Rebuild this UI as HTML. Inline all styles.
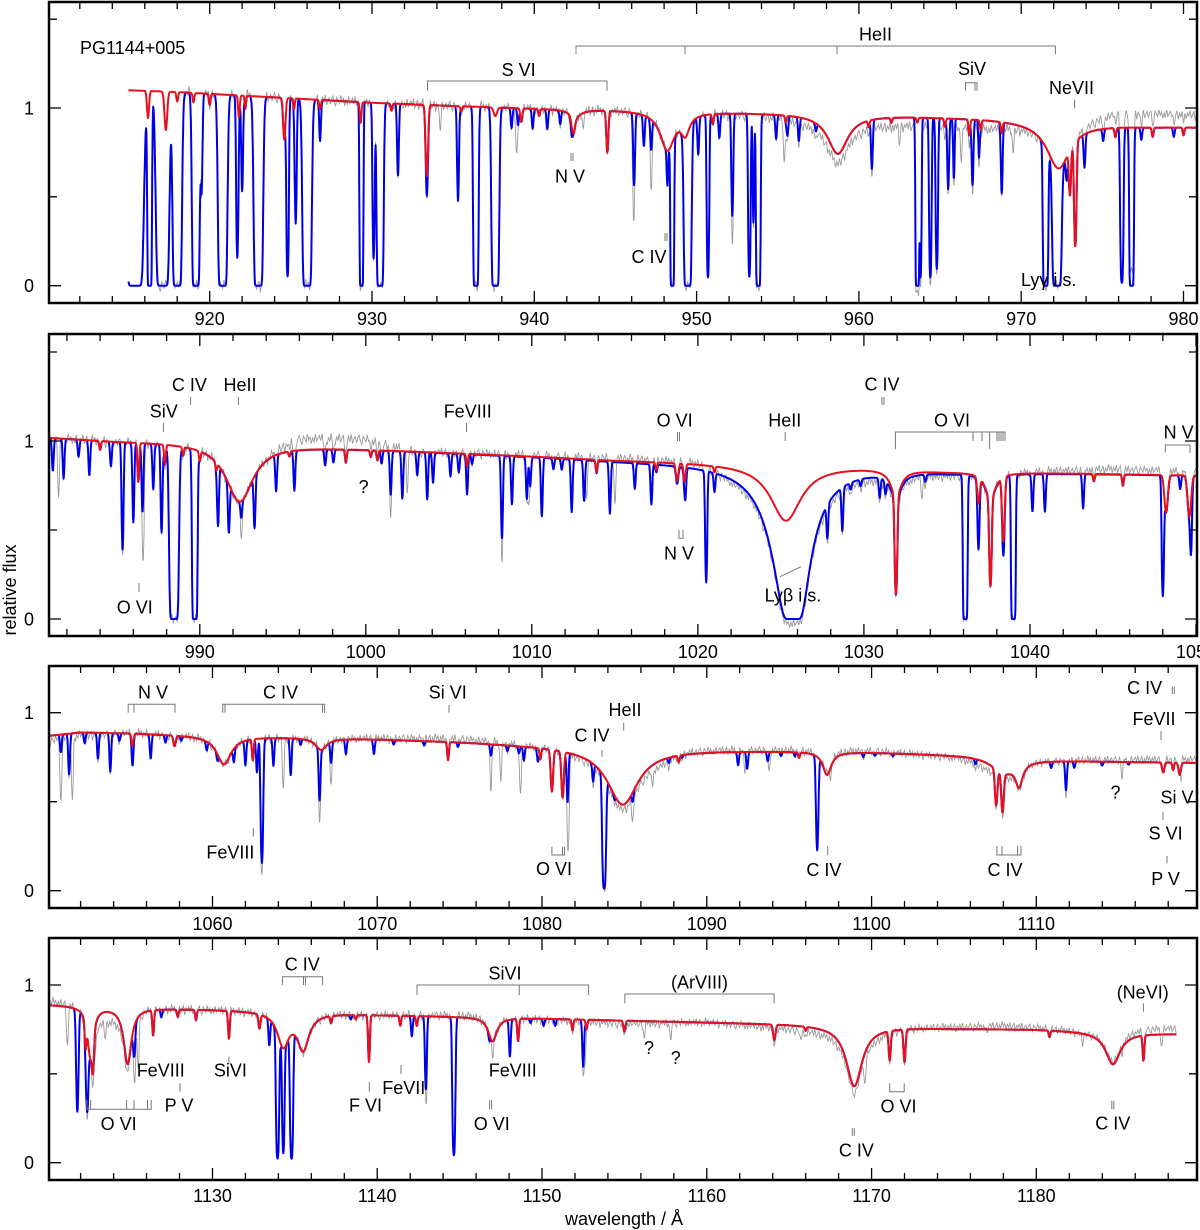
<!DOCTYPE html>
<html>
<head>
<meta charset="utf-8">
<style>
  html,body{margin:0;padding:0;background:#fff;}
  svg{display:block;font-family:"Liberation Sans",Arial,sans-serif;}
  .lab{font-size:18px;fill:#000;}
  .ann{stroke:#777;stroke-width:1;fill:none;}
  .frame{fill:none;stroke:#000;stroke-width:2.5;}
</style>
</head>
<body>
<svg id="chart" width="1200" height="1230" viewBox="0 0 1200 1230" xmlns="http://www.w3.org/2000/svg">
  <g id="spectra"></g>
  <g id="axes"></g>

  <g>
    <text class="lab" x="80" y="54">PG1144+005</text>
    <text class="lab" x="518.6" y="76" text-anchor="middle">S VI</text>
    <path class="ann" d="M427.5,90.7V81H607V90.7"/>
    <text class="lab" x="875.5" y="40.7" text-anchor="middle">HeII</text>
    <path class="ann" d="M576,54V46H1055.4V54M685,46V54M837,46V54"/>
    <text class="lab" x="972" y="75" text-anchor="middle">SiV</text>
    <path class="ann" d="M965.5,90.7V82.7H977V90.7M975,82.7V90.7"/>
    <text class="lab" x="1071.5" y="94" text-anchor="middle">NeVII</text>
    <path class="ann" d="M1074.5,100V108"/>
    <text class="lab" x="570" y="182.7" text-anchor="middle">N V</text>
    <path class="ann" d="M571,153V161M573,153V161"/>
    <text class="lab" x="649" y="263" text-anchor="middle">C IV</text>
    <path class="ann" d="M665,233V241M667,233V241"/>
    <text class="lab" x="1021" y="286">Lyγ i.s.</text>
  </g>

  <g>
    <text class="lab" x="189.4" y="391" text-anchor="middle">C IV</text>
    <path class="ann" d="M190.6,397V405"/>
    <text class="lab" x="240" y="391" text-anchor="middle">HeII</text>
    <path class="ann" d="M238.4,397V405"/>
    <text class="lab" x="163.8" y="417.3" text-anchor="middle">SiV</text>
    <path class="ann" d="M163.4,423V432"/>
    <text class="lab" x="467.7" y="417.3" text-anchor="middle">FeVIII</text>
    <path class="ann" d="M466.5,423V432"/>
    <text class="lab" x="363.6" y="493" text-anchor="middle">?</text>
    <text class="lab" x="134.7" y="613.3" text-anchor="middle">O VI</text>
    <path class="ann" d="M139,583V591.7"/>
    <text class="lab" x="674.6" y="426.7" text-anchor="middle">O VI</text>
    <path class="ann" d="M677.5,432V441M679.5,432V441"/>
    <text class="lab" x="784.8" y="426.7" text-anchor="middle">HeII</text>
    <path class="ann" d="M785.2,432V441"/>
    <text class="lab" x="882" y="390.7" text-anchor="middle">C IV</text>
    <path class="ann" d="M882,397V405M884,397V405"/>
    <text class="lab" x="952" y="426.7" text-anchor="middle">O VI</text>
    <path class="ann" d="M895.4,449.3V432H1005.7M973,432V441M982,432V441M989.6,432V449M997,432V441M999,432V441M1001,432V441M1003,432V441M1005,432V441"/>
    <text class="lab" x="1178.6" y="438.3" text-anchor="middle">N V</text>
    <path class="ann" d="M1165.3,452.7V445H1190V452.7"/>
    <text class="lab" x="679" y="559.3" text-anchor="middle">N V</text>
    <path class="ann" d="M679,530V538.3H683V530"/>
    <text class="lab" x="764.6" y="601.7">Lyβ i.s.</text>
    <path class="ann" d="M780,576.7L801,566.7"/>
  </g>

  <g>
    <text class="lab" x="153" y="698.3" text-anchor="middle">N V</text>
    <path class="ann" d="M128.2,712.7V704.3H175V712.7M134,704.3V712.7"/>
    <text class="lab" x="280.5" y="698.3" text-anchor="middle">C IV</text>
    <path class="ann" d="M222.7,712.7V704.3H324.5V712.7M225,704.3V712.7M322.5,704.3V712.7"/>
    <text class="lab" x="447.8" y="698.3" text-anchor="middle">Si VI</text>
    <path class="ann" d="M449,705V712.7"/>
    <text class="lab" x="230.4" y="858.3" text-anchor="middle">FeVIII</text>
    <path class="ann" d="M253.3,828.3V836.7"/>
    <text class="lab" x="554" y="875" text-anchor="middle">O VI</text>
    <path class="ann" d="M551.9,846.7V855H564.5V846.7M562.5,846.7V855"/>
    <text class="lab" x="592" y="741.7" text-anchor="middle">C IV</text>
    <path class="ann" d="M602,750V756.7"/>
    <text class="lab" x="625" y="716" text-anchor="middle">HeII</text>
    <path class="ann" d="M623.7,722.7V730.7"/>
    <text class="lab" x="823.9" y="876" text-anchor="middle">C IV</text>
    <path class="ann" d="M827.7,846V855"/>
    <text class="lab" x="1005" y="876" text-anchor="middle">C IV</text>
    <path class="ann" d="M996.9,846V855H1021V846M1002,846V855M1017.6,846V855"/>
    <text class="lab" x="1115.5" y="798.3" text-anchor="middle">?</text>
    <text class="lab" x="1144.6" y="694" text-anchor="middle">C IV</text>
    <path class="ann" d="M1172.3,686.7V694M1174.3,686.7V694"/>
    <text class="lab" x="1154" y="725" text-anchor="middle">FeVII</text>
    <path class="ann" d="M1161,731V740"/>
    <text class="lab" x="1177" y="803.3" text-anchor="middle">Si V</text>
    <path class="ann" d="M1181,775V781.7"/>
    <text class="lab" x="1165.6" y="839.3" text-anchor="middle">S VI</text>
    <path class="ann" d="M1163,811.7V820"/>
    <text class="lab" x="1165.6" y="885" text-anchor="middle">P V</text>
    <path class="ann" d="M1167,856V863.3"/>
  </g>

  <g>
    <text class="lab" x="302.3" y="970.7" text-anchor="middle">C IV</text>
    <path class="ann" d="M282.4,985V976.7H322.6V985M303.5,976.7V985M305.5,976.7V985"/>
    <text class="lab" x="505" y="979.3" text-anchor="middle">SiVI</text>
    <path class="ann" d="M417,995V985H588.6V995M519.3,985V995"/>
    <text class="lab" x="699.5" y="988.3" text-anchor="middle">(ArVIII)</text>
    <path class="ann" d="M624.9,1003.3V994H774.1V1003.3"/>
    <text class="lab" x="1142.7" y="998.3" text-anchor="middle">(NeVI)</text>
    <path class="ann" d="M1143.4,1003.3V1011.7"/>
    <text class="lab" x="649" y="1054" text-anchor="middle">?</text>
    <text class="lab" x="675.8" y="1064" text-anchor="middle">?</text>
    <text class="lab" x="898.5" y="1112.7" text-anchor="middle">O VI</text>
    <path class="ann" d="M889.7,1083.3V1091.7H904.2V1083.3"/>
    <text class="lab" x="856.4" y="1156.7" text-anchor="middle">C IV</text>
    <path class="ann" d="M852.3,1128.3V1136M854.3,1128.3V1136"/>
    <text class="lab" x="1112.8" y="1129.3" text-anchor="middle">C IV</text>
    <path class="ann" d="M1111.8,1100.7V1109.3M1113.8,1100.7V1109.3"/>
    <text class="lab" x="118.6" y="1130" text-anchor="middle">O VI</text>
    <path class="ann" d="M86.9,1100V1109.3H151.2V1100M90.6,1100V1109.3M126.6,1100V1109.3M134,1100V1109.3M147.5,1100V1109.3"/>
    <text class="lab" x="160.7" y="1076.7" text-anchor="middle">FeVIII</text>
    <text class="lab" x="179" y="1111.7" text-anchor="middle">P V</text>
    <path class="ann" d="M180,1083.3V1091.7"/>
    <text class="lab" x="230.4" y="1076.7" text-anchor="middle">SiVI</text>
    <path class="ann" d="M228.9,1056.7V1064"/>
    <text class="lab" x="365.5" y="1111.7" text-anchor="middle">F VI</text>
    <path class="ann" d="M369.3,1081.7V1091.7"/>
    <text class="lab" x="403.8" y="1094" text-anchor="middle">FeVII</text>
    <path class="ann" d="M401,1065V1074"/>
    <text class="lab" x="512.8" y="1076.7" text-anchor="middle">FeVIII</text>
    <text class="lab" x="491.8" y="1130" text-anchor="middle">O VI</text>
    <path class="ann" d="M489.6,1100V1109.3M491.6,1100V1109.3"/>
  </g>

  <text class="lab" x="624" y="1225" text-anchor="middle">wavelength / Å</text>
  <text class="lab" transform="translate(16,590) rotate(-90)" text-anchor="middle">relative flux</text>
</svg>

<script>
// ===== Panel 1 data (910-981 A) =====
const p1Continuum = [[915,1.10],[918,1.09],[922,1.07],[926,1.05],[930,1.03],[935,1.012],[940,0.998],[945,0.99],[953,0.975],[963,0.955],[968,0.94],[975,0.905],[978,0.895],[981,0.892]];
const p1PhotLines = [[916.2,0.15,0.06],[917.3,0.22,0.08],[918.0,0.05,0.05],[919.0,0.05,0.05],[920.0,0.06,0.05],[921.8,0.12,0.05],[922.2,0.07,0.04],[924.6,0.25,0.07],[925.2,0.06,0.04],[926.8,0.05,0.05],[929.3,0.12,0.05],[931.2,0.04,0.05],[933.38,0.5,0.07],[935.5,0.03,0.05],[937.6,0.05,0.1],[939.2,0.08,0.06],[940.3,0.04,0.05],[942.4,0.1,0.1],[944.5,0.27,0.06],[951.0,0.06,0.05],[955.5,0.04,0.05],[960.6,0.04,0.05],[962,0.03,0.05],[963.6,0.03,0.05],[965.3,0.05,0.05],[966.8,0.1,0.05],[967.5,0.06,0.05],[968.8,0.07,0.05],[973.0,0.4,0.06],[973.33,1.3,0.06],[975.8,0.06,0.05],[978.1,0.06,0.05],[980.0,0.05,0.05]];
const p1PhotBroad = [[942.5,0.05,0.4],[948.2,0.25,0.5],[949.3,0.12,0.3],[958.7,0.26,0.7],[972.3,0.33,0.8]];
const p1IsmLines = [[915.4,20,0.22],[916.3,20,0.06],[917.1,20,0.17],[918.0,20,0.12],[919.15,20,0.1],[919.5,0.7,0.05],[920.8,20,0.12],[921.7,1.9,0.05],[922.0,0.7,0.05],[923.0,20,0.12],[924.8,3,0.05],[925.3,1.1,0.05],[926.0,20,0.12],[926.8,0.2,0.05],[929.35,20,0.05],[930.1,1.9,0.05],[930.5,20,0.09],[931.6,0.5,0.05],[933.38,0.2,0.05],[935.3,0.75,0.05],[936.4,20,0.07],[937.6,20,0.1],[938.6,0.12,0.05],[939.0,0.1,0.05],[939.9,0.12,0.05],[940.8,0.12,0.05],[941.6,0.08,0.05],[942.3,0.06,0.05],[946.15,0.55,0.05],[946.75,0.2,0.05],[947.2,0.2,0.05],[948.2,0.3,0.04],[948.5,20,0.05],[949.45,20,0.1],[950.1,0.25,0.05],[950.7,3,0.05],[951.4,0.15,0.05],[952.2,0.9,0.05],[953.25,3,0.05],[953.5,1,0.04],[953.8,20,0.06],[954.9,0.15,0.05],[955.6,0.12,0.05],[956.3,0.15,0.05],[957.35,0.05,0.05],[960.8,0.35,0.05],[963.6,20,0.05],[963.8,3,0.04],[964.4,3,0.05],[964.8,2.3,0.05],[965.5,0.55,0.05],[965.85,0.45,0.04],[967.0,0.5,0.05],[967.4,0.25,0.04],[968.8,0.5,0.05],[971.5,20,0.07],[972.2,20,0.12],[972.8,0.2,0.05],[973.9,0.25,0.05],[975.05,0.08,0.05],[976.2,4,0.06],[976.8,20,0.06],[977.4,0.08,0.05],[979.4,0.06,0.05]];
const p1Damped = [];
const p1GreyLines = [[934.2,0.15],[938.9,0.3],[943.0,0.1],[946.1,0.6],[947.2,0.4],[952.2,0.5],[955.4,0.3],[962.5,0.1],[966.3,0.2],[969.5,0.15]];
const p1GreyOffset = [[915,0],[950,0],[955,-0.02],[958,-0.06],[962,-0.05],[968,-0.05],[972,0],[974,0.03],[976,0.08],[981,0.07]];
const p1TickLabels = [920,930,940,950,960,970,980];

// ===== Panel 2 data (981-1050 A) =====
const p2Continuum = [[981,1.02],[985,1.0],[990,0.99],[995,0.975],[1000,0.955],[1005,0.935],[1010,0.915],[1015,0.893],[1020,0.88],[1030,0.855],[1035,0.83],[1045,0.815],[1051,0.805]];
const p2PhotLines = [[984.0,0.05,0.05],[986.3,0.25,0.05],[987.9,0.12,0.05],[989.0,0.05,0.05],[990.0,0.06,0.05],[991.0,0.05,0.05],[995.4,0.03,0.05],[998.8,0.08,0.05],[1000.3,0.04,0.05],[1000.7,0.06,0.05],[1006.1,0.08,0.05],[1013.9,0.08,0.05],[1017.5,0.05,0.05],[1018.75,0.12,0.07],[1019.2,0.12,0.06],[1021.0,0.04,0.05],[1031.93,1.6,0.06],[1036.9,0.2,0.07],[1037.62,1.3,0.06],[1038.4,0.6,0.07],[1043.85,0.05,0.05],[1045.6,0.08,0.05],[1048.2,0.3,0.1],[1049.6,0.34,0.1]];
const p2PhotBroad = [[992.4,0.4,0.9],[1025.3,0.45,1.0],[1031.93,0.2,0.35],[1037.62,0.2,0.35]];
const p2IsmLines = [[981.15,0.2],[981.8,0.25],[982.7,0.1],[983.35,0.22],[984.65,0.15],[985.35,0.95],[986.0,0.6],[986.55,0.5],[987.2,0.3],[987.7,0.7],[988.45,20,0.12],[989.7,20,0.07],[991.1,0.5],[991.75,0.45],[992.5,0.15],[993.3,0.45],[994.6,0.25],[995.7,0.27],[997.55,0.1],[998.05,0.08],[1000.95,0.08],[1001.5,0.3],[1002.2,0.33],[1003.1,0.15],[1003.7,0.33],[1004.05,0.2],[1005.1,0.15],[1005.6,0.12],[1006.1,0.2],[1006.4,0.06],[1008.2,0.7],[1008.8,0.35],[1009.7,0.3],[1009.9,0.2],[1010.6,0.45],[1011.3,0.07],[1011.8,0.07],[1012.4,0.4],[1013.15,0.3],[1014.7,0.4],[1016.2,0.18],[1017.2,0.3],[1019.25,0.15],[1020.5,1.4],[1021.0,0.1],[1027.8,0.35],[1028.7,0.4],[1029.2,0.05],[1029.8,0.05],[1030.95,0.15],[1031.3,0.1],[1033.7,0.05],[1036.1,20,0.06],[1036.9,0.5],[1038.4,0.2],[1039.0,20,0.06],[1040.15,0.3],[1040.9,0.3],[1043.2,0.27],[1048.0,1.8],[1049.05,0.1],[1049.7,0.6]];
const p2Damped = [[1025.72,1.0]];
const p2GreyLines = [[981.5,0.4],[986.6,0.8],[992.5,0.2],[1001.5,0.3],[1002.5,0.3],[1008.2,0.4],[1009.8,0.3],[1013.3,0.3],[1015,0.35],[1033.5,0.15],[1050.5,0.4]];
const p2GreyOffset = [[981,0],[994,0],[996,0.06],[1000,0.06],[1003,0],[1015,0.02],[1020,0.03],[1022,-0.02],[1028,-0.03],[1033,-0.02],[1040,0.01],[1045,0.03],[1051,0.02]];
const p2TickLabels = [990,1000,1010,1020,1030,1040,1050];

// ===== Panel 3 data (1050-1120 A) =====
const p3Continuum = [[1050,0.87],[1052,0.89],[1055,0.885],[1058,0.875],[1060,0.868],[1065,0.862],[1070,0.852],[1075,0.837],[1080,0.815],[1082,0.805],[1088,0.79],[1095,0.785],[1100,0.778],[1106,0.76],[1110,0.735],[1115,0.725],[1120,0.718]];
const p3PhotLines = [[1055.15,0.08,0.06],[1057.7,0.07,0.07],[1062.45,0.15,0.05],[1074.3,0.13,0.05],[1079.9,0.08,0.05],[1080.6,0.35,0.07],[1081.25,0.4,0.07],[1088.3,0.05,0.05],[1095.6,0.04,0.05],[1107.56,0.35,0.07],[1107.95,0.4,0.07],[1117.7,0.08,0.07],[1118.3,0.06,0.05],[1118.7,0.1,0.07]];
const p3PhotBroad = [[1060.7,0.2,0.5],[1066.6,0.08,0.4],[1084.9,0.5,1.0],[1097.3,0.18,0.3],[1108.0,0.12,0.8],[1108.95,0.2,0.25]];
const p3IsmLines = [[1050.8,0.12],[1051.3,0.3],[1052.25,0.07],[1053.05,0.18],[1053.8,0.28],[1054.35,0.05],[1055.15,0.15],[1056.25,0.17],[1057.15,0.05],[1058.1,0.03],[1059.65,0.06],[1060.3,0.05],[1061.3,0.1],[1062.0,0.18],[1062.7,0.25],[1063.0,1.7,0.06],[1063.7,0.2],[1064.75,0.28],[1065.35,0.04],[1066.5,0.45],[1067.2,0.15],[1068.1,0.1],[1069.8,0.1],[1071.0,0.03],[1072.85,0.03],[1074.9,0.03],[1076.9,0.08],[1077.9,0.04],[1078.6,0.05],[1078.9,0.1],[1079.75,0.1],[1081.55,0.45],[1083.1,0.15],[1083.77,4,0.07],[1084.4,0.05],[1085.5,0.1],[1087.7,0.04],[1088.5,0.02],[1091.9,0.1],[1092.45,0.13],[1093.7,0.07],[1094.5,0.03],[1095.35,0.03],[1096.7,1.2,0.06],[1099.5,0.03],[1100.2,0.02],[1101.3,0.02],[1106.3,0.04],[1110.9,0.05],[1111.8,0.25],[1112.3,0.05],[1114.0,0.03],[1115.6,0.02]];
const p3Damped = [];
const p3GreyLines = [[1050.8,0.4],[1051.5,0.5],[1063,0.5],[1064.3,0.4],[1066.5,0.3],[1067.2,0.2],[1076.9,0.3],[1077.5,0.3],[1078.7,0.4],[1081.6,0.9],[1085.5,0.2],[1086.7,0.1],[1092.3,0.15],[1093.8,0.15],[1097.5,0.1],[1111.8,0.1],[1115.2,0.15]];
const p3GreyOffset = [[1050,-0.03],[1055,0],[1068,0],[1075,0.02],[1080,0],[1083,-0.02],[1087,-0.04],[1089,0.01],[1100,0.01],[1105,-0.01],[1107,-0.04],[1110,0],[1114,0.01],[1120,0.02]];
const p3TickLabels = [1060,1070,1080,1090,1100,1110];

// ===== Panel 4 data (1120-1190 A) =====
const p4Continuum = [[1120,0.89],[1125,0.872],[1130,0.862],[1135,0.848],[1140,0.832],[1145,0.822],[1150,0.812],[1155,0.80],[1160,0.79],[1165,0.78],[1170,0.765],[1175,0.755],[1180,0.75],[1185,0.732],[1189,0.725]];
const p4PhotLines = [[1122.3,0.2,0.05],[1122.75,0.3,0.06],[1126.4,0.18,0.05],[1127.9,0.05,0.05],[1129.0,0.07,0.05],[1131.0,0.2,0.05],[1132.85,0.1,0.06],[1137.2,0.05,0.05],[1138.7,0.03,0.05],[1139.5,0.38,0.05],[1141.4,0.07,0.05],[1142.4,0.07,0.05],[1148.55,0.17,0.05],[1151.85,0.08,0.05],[1152.7,0.07,0.05],[1155.0,0.08,0.06],[1164.1,0.12,0.07],[1166.0,0.03,0.05],[1171.1,0.25,0.06],[1172.0,0.28,0.06],[1180.8,0.05,0.05],[1186.5,0.22,0.05]];
const p4PhotBroad = [[1122.6,0.4,0.2],[1124.85,0.45,0.25],[1134.3,0.25,0.4],[1135.5,0.28,0.4],[1147.0,0.18,0.3],[1168.95,0.58,0.5],[1184.65,0.28,0.5]];
const p4IsmLines = [[1121.8,1.1,0.06],[1122.4,0.9,0.06],[1125.25,0.25,0.06],[1126.9,0.05],[1133.45,0.2],[1133.95,3.5,0.06],[1134.3,2.5,0.05],[1134.8,3.5,0.06],[1138.4,0.03],[1142.1,0.15],[1142.95,0.7,0.05],[1144.65,3,0.06],[1146.8,0.05],[1148.05,0.3],[1149.3,0.03],[1150.1,0.05],[1150.8,0.05],[1152.5,0.4]];
const p4Damped = [];
const p4GreyLines = [[1121.2,0.3],[1122.9,0.1],[1123.5,0.1],[1125.3,0.3],[1125.5,0.4],[1143,0.4],[1147,0.15],[1152.6,0.3],[1156.2,0.1],[1157.8,0.12],[1165.7,0.08],[1169.6,0.25],[1177,0.05],[1182.8,0.08],[1185.2,0.1],[1187.6,0.15]];
const p4GreyOffset = [[1120,0.02],[1122,0],[1123,-0.07],[1124.5,-0.05],[1126,0],[1140,0],[1145,0.01],[1155,-0.02],[1160,0],[1166,-0.03],[1170,-0.04],[1172,0],[1178,0.02],[1183,0],[1187,0.03]];
const p4TickLabels = [1130,1140,1150,1160,1170,1180];

// observed residual pattern for the grey spectrum
const noise = [0.02,-0.01,0.03,-0.02,0.0,0.025,-0.03,0.01,-0.015,0.035,-0.005,0.02,-0.025,0.015,-0.01,0.03,-0.02,0.005,0.025,-0.035,0.01,-0.005,0.02,-0.015,0.03,-0.025,0.0,0.015,-0.02,0.01,0.025,-0.01,-0.03,0.02,0.005,-0.015,0.03,-0.005,0.015,-0.025,0.01,-0.02,0.028,-0.012,0.004];

const panels = [
  {name:'panel-1', lo:910.1, hi:980.83, top:2, bottom:303, y0:285.7, y1:108, start:915.0, end:980.83, greyStart:916.5, labelY:325, cont:p1Continuum, phot:p1PhotLines, broad:p1PhotBroad, ism:p1IsmLines, damped:p1Damped, grey:p1GreyLines, goff:p1GreyOffset, ticks:p1TickLabels, yt:[0,0.5,1,1.5]},
  {name:'panel-2', lo:980.92, hi:1050.06, top:334, bottom:636, y0:619, y1:441, start:980.92, end:1050.06, greyStart:980.92, labelY:658, cont:p2Continuum, phot:p2PhotLines, broad:p2PhotBroad, ism:p2IsmLines, damped:p2Damped, grey:p2GreyLines, goff:p2GreyOffset, ticks:p2TickLabels, yt:[0,0.5,1,1.5]},
  {name:'panel-3', lo:1050.08, hi:1119.75, top:666, bottom:908, y0:890.7, y1:712.7, start:1050.08, end:1119.75, greyStart:1050.08, labelY:930, cont:p3Continuum, phot:p3PhotLines, broad:p3PhotBroad, ism:p3IsmLines, damped:p3Damped, grey:p3GreyLines, goff:p3GreyOffset, ticks:p3TickLabels, yt:[0,0.5,1]},
  {name:'panel-4', lo:1120.08, hi:1189.75, top:938, bottom:1180, y0:1162.7, y1:985, start:1120.08, end:1188.5, greyStart:1120.08, labelY:1202, cont:p4Continuum, phot:p4PhotLines, broad:p4PhotBroad, ism:p4IsmLines, damped:p4Damped, grey:p4GreyLines, goff:p4GreyOffset, ticks:p4TickLabels, yt:[0,0.5,1]}
];

const XL = 49, XR = 1197;
const NS = 'http://www.w3.org/2000/svg';

function interp(knots, l){
  if(l <= knots[0][0]) return knots[0][1];
  for(let i=1;i<knots.length;i++){
    if(l <= knots[i][0]){
      const a=knots[i-1], b=knots[i];
      return a[1] + (b[1]-a[1])*(l-a[0])/(b[0]-a[0]);
    }
  }
  return knots[knots.length-1][1];
}
function tauGauss(lines, l){
  let t=0;
  for(const ln of lines){
    const s = ln[2] || 0.05;
    const d = (l-ln[0])/s;
    if(d>-7 && d<7) t += ln[1]*Math.exp(-0.5*d*d);
  }
  return t;
}
function tauLorentz(lines, l){
  let t=0;
  for(const ln of lines){
    const d=(l-ln[0])/ln[2];
    t += ln[1]/(1+d*d);
  }
  return t;
}
function tauDamped(lines, l){
  let t=0;
  for(const ln of lines){
    const d=l-ln[0];
    t += ln[1]/(d*d+0.002);
  }
  return t;
}
function noiseAt(l){
  const f = l/0.08;
  const i = Math.floor(f), fr = f-i;
  const n = noise.length;
  const a = noise[((i%n)+n)%n], b = noise[(((i+1)%n)+n)%n];
  return a + (b-a)*fr;
}

const spectra = document.getElementById('spectra');
const axes = document.getElementById('axes');

panels.forEach((P) => {
  const xs = (l) => XL + (l-P.lo)*(XR-XL)/(P.hi-P.lo);
  const ys = (f) => P.y0 - f*(P.y0-P.y1);

  // clip
  const cp = document.createElementNS(NS,'clipPath');
  cp.setAttribute('id','clip-'+P.name);
  const cr = document.createElementNS(NS,'rect');
  cr.setAttribute('x',XL); cr.setAttribute('y',P.top);
  cr.setAttribute('width',XR-XL); cr.setAttribute('height',P.bottom-P.top);
  cp.appendChild(cr);
  spectra.appendChild(cp);

  const g = document.createElementNS(NS,'g');
  g.setAttribute('clip-path','url(#clip-'+P.name+')');
  
  
  spectra.appendChild(g);

  let dR='', dB='', dG='';
  const step = 0.02;
  for(let l=P.start; l<=P.end+1e-9; l+=step){
    const c = interp(P.cont, l);
    const red = c*Math.exp(-(tauGauss(P.phot,l)+tauLorentz(P.broad,l)));
    const blue = red*Math.exp(-(tauGauss(P.ism,l)+tauDamped(P.damped,l)));
    const X = xs(l).toFixed(1);
    dR += (dR?'L':'M')+X+','+ys(red).toFixed(1);
    dB += (dB?'L':'M')+X+','+ys(blue).toFixed(1);
    if(l >= P.greyStart){
      const gg = blue*Math.exp(-tauGauss(P.grey,l)) + interp(P.goff,l) + noiseAt(l)*c;
      dG += (dG?'L':'M')+X+','+ys(gg).toFixed(1);
    }
  }
  const pg = document.createElementNS(NS,'path');
  pg.setAttribute('d',dG); pg.setAttribute('fill','none');
  pg.setAttribute('stroke','#9a9a9a'); pg.setAttribute('stroke-width','0.9');
  
  
  g.appendChild(pg);
  const pb = document.createElementNS(NS,'path');
  pb.setAttribute('d',dB); pb.setAttribute('fill','none');
  pb.setAttribute('stroke','#0000e6'); pb.setAttribute('stroke-width','2');
  pb.setAttribute('stroke-linejoin','round');
  
  
  g.appendChild(pb);
  const pr = document.createElementNS(NS,'path');
  pr.setAttribute('d',dR); pr.setAttribute('fill','none');
  pr.setAttribute('stroke','#e8101c'); pr.setAttribute('stroke-width','2');
  pr.setAttribute('stroke-linejoin','round');
  
  
  g.appendChild(pr);

  // axes group
  const ag = document.createElementNS(NS,'g');
  
  
  axes.appendChild(ag);

  let td = '';
  const first = Math.ceil(P.lo/2)*2;
  for(let w=first; w<=P.hi; w+=2){
    const X = xs(w);
    const major = (w%10===0);
    const len = major ? 12 : 7;
    td += 'M'+X.toFixed(1)+','+P.bottom+'v-'+len+'M'+X.toFixed(1)+','+P.top+'v'+len;
  }
  P.yt.forEach(v => {
    const Y = ys(v);
    const len = (v===0||v===1) ? 12 : 8;
    td += 'M'+XL+','+Y.toFixed(1)+'h'+len+'M'+XR+','+Y.toFixed(1)+'h-'+len;
  });
  const tp = document.createElementNS(NS,'path');
  tp.setAttribute('d',td); tp.setAttribute('stroke','#000'); tp.setAttribute('stroke-width','1.3'); tp.setAttribute('fill','none');
  
  
  ag.appendChild(tp);

  P.ticks.forEach(v => {
    const t = document.createElementNS(NS,'text');
    t.setAttribute('x', xs(v).toFixed(1));
    t.setAttribute('y', P.labelY);
    t.setAttribute('text-anchor','middle');
    t.setAttribute('class','lab');
    
    
    t.textContent = v;
    ag.appendChild(t);
  });
  [0,1].forEach(v => {
    const t = document.createElementNS(NS,'text');
    t.setAttribute('x', 34);
    t.setAttribute('y', (ys(v)+6.5).toFixed(1));
    t.setAttribute('text-anchor','end');
    t.setAttribute('class','lab');
    
    
    t.textContent = v;
    ag.appendChild(t);
  });

  const fr = document.createElementNS(NS,'rect');
  fr.setAttribute('x',XL); fr.setAttribute('y',P.top);
  fr.setAttribute('width',XR-XL); fr.setAttribute('height',P.bottom-P.top);
  fr.setAttribute('class','frame');
  
  
  ag.appendChild(fr);
});
</script>
</body>
</html>
